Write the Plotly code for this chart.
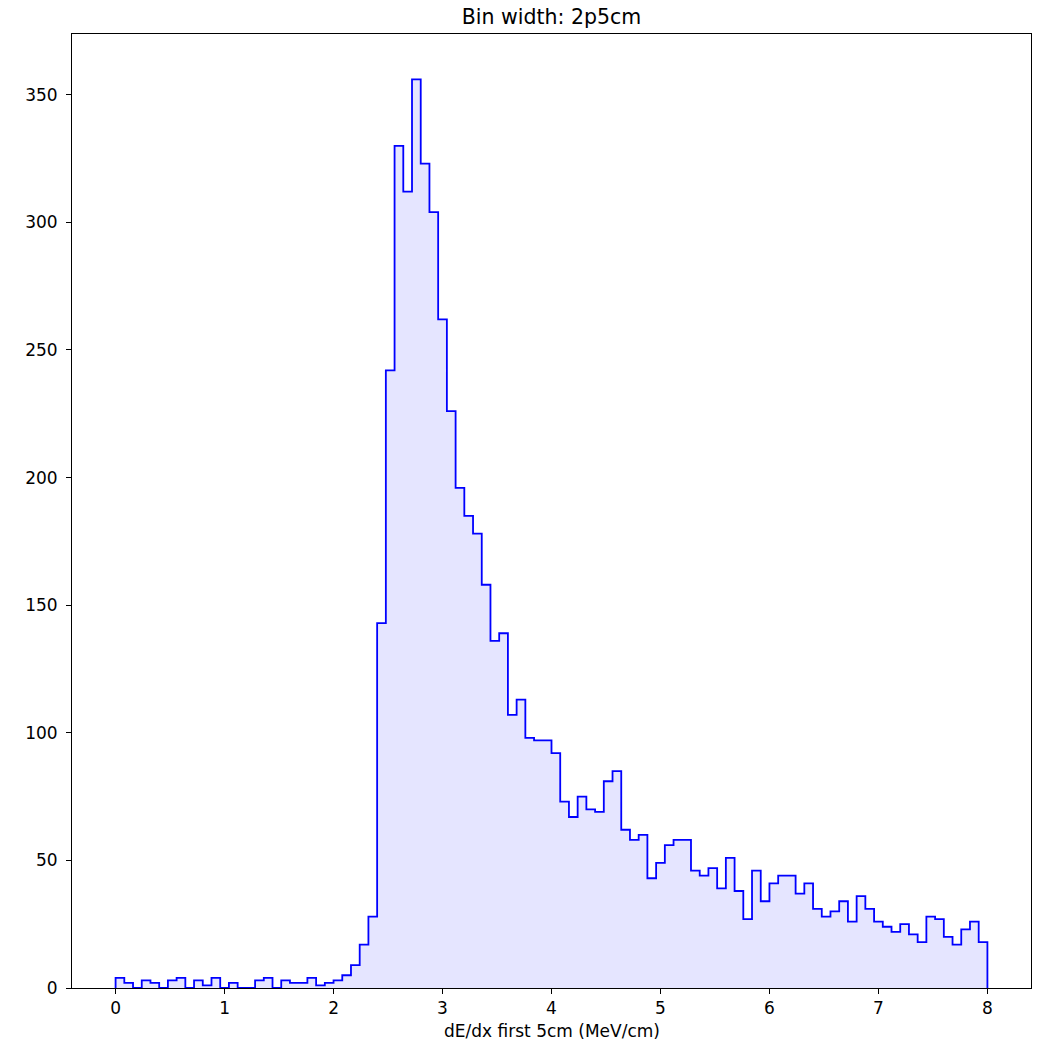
import numpy as np
import plotly.graph_objects as go

# histogram of dE/dx in the first 5cm, 100 bins from 0 to 8
x_min = 0.0
x_max = 8.0
counts = [
    4, 2, 0, 3, 2, 0, 3, 4, 0, 3,
    1, 4, 0, 2, 0, 0, 3, 4, 0, 3,
    2, 2, 4, 1, 2, 3, 5, 9, 17, 28,
    143, 242, 330, 312, 356, 323, 304, 262, 226, 196,
    185, 178, 158, 136, 139, 107, 113, 98, 97, 97,
    92, 73, 67, 75, 70, 69, 81, 85, 62, 58,
    60, 43, 49, 56, 58, 58, 46, 44, 47, 39,
    51, 38, 27, 46, 34, 41, 44, 44, 37, 41,
    31, 28, 30, 34, 26, 36, 31, 26, 24, 22,
    25, 21, 18, 28, 27, 20, 17, 23, 26, 18,
]
title = "Bin width: 2p5cm"
x_title = "dE/dx first 5cm (MeV/cm)"

edges = np.linspace(x_min, x_max, len(counts) + 1)
# step outline like matplotlib histtype="step"
xs = [edges[0]] + list(edges[:-1]) + [edges[-1], edges[-1]]
ys = [0] + counts + [counts[-1], 0]

fig = go.Figure()
fig.add_trace(go.Scatter(
    x=xs, y=ys, mode="lines", line_shape="hv",
    line=dict(color="blue", width=1.8),
    fill="tozeroy", fillcolor="rgba(0,0,255,0.1)",
    showlegend=False,
))

W, H = 1041, 1040
span = x_max - x_min
fig.update_layout(
    width=W, height=H,
    margin=dict(l=72, r=10, t=34, b=52),
    paper_bgcolor="white", plot_bgcolor="white",
    font=dict(family="DejaVu Sans", size=17, color="black"),
    title=dict(text=title, x=0.5, xref="paper", xanchor="center", yref="container",
               y=1 - 17 / H, yanchor="middle", font=dict(size=20.5)),
)
axis_style = dict(showline=True, linecolor="black", linewidth=1, mirror=True,
                  ticks="outside", ticklen=5, tickcolor="black", showgrid=False,
                  zeroline=False, automargin=False)
fig.update_xaxes(range=[x_min - 0.05 * span, x_max + 0.05 * span], dtick=1,
                 **axis_style)
fig.update_yaxes(range=[0, max(counts) * 1.05], dtick=50,
                 ticklabelstandoff=5, **axis_style)

# x axis label placed by hand so it sits under the tick labels
fig.add_annotation(text=x_title, xref="paper", yref="paper", x=0.5, y=0,
                   xanchor="center", yanchor="top", yshift=-31, showarrow=False,
                   font=dict(size=17))

# drop the default body margin so the figure fills the window exactly
fig.write_html("out.html", config={"displayModeBar": False},
               post_script="document.body.style.margin = '0';")
